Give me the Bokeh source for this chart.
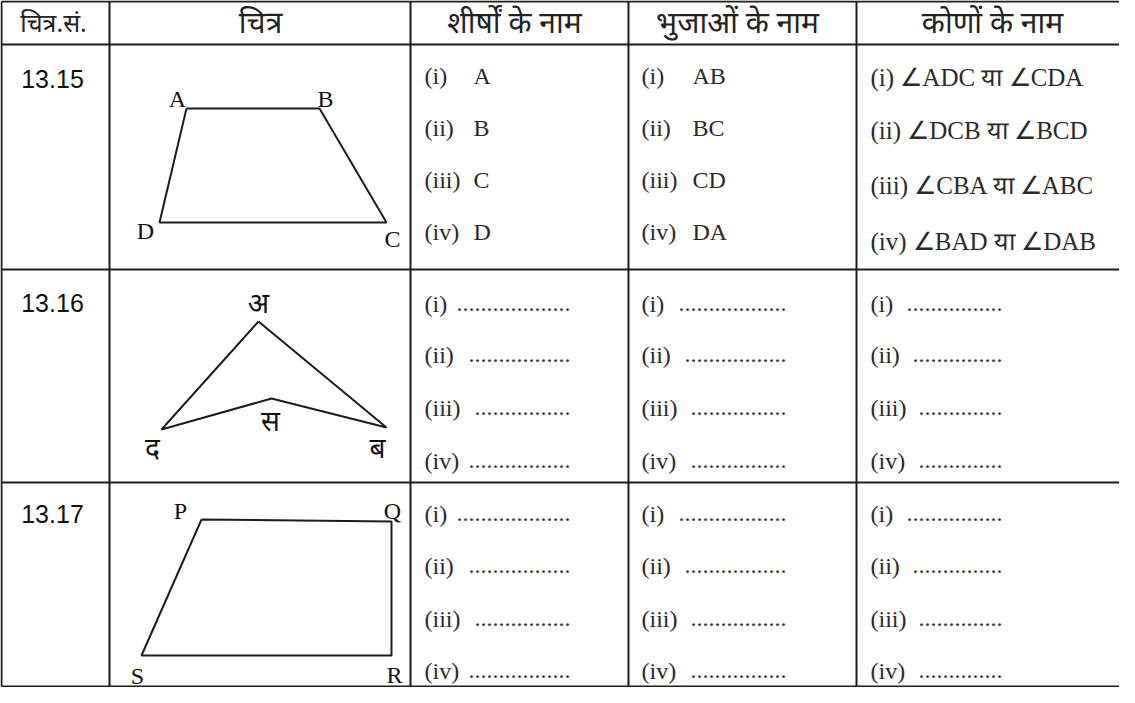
from bokeh.plotting import figure
from bokeh.models import Range1d
from bokeh.core.properties import value
from bokeh.embed import file_html
from bokeh.resources import INLINE

# ---------------- data ----------------
headers = ["चित्र.सं.", "चित्र", "शीर्षों के नाम", "भुजाओं के नाम", "कोणों के नाम"]
fig_numbers = ["13.15", "13.16", "13.17"]
numerals = ["(i)", "(ii)", "(iii)", "(iv)"]

# 13.15 trapezium vertices (A, B, C, D)
trap_names = ["A", "B", "C", "D"]
trap_x = [194, 327, 394, 167]
trap_y = [116, 116, 230, 230]

# 13.16 concave quadrilateral (अ, ब, स, द)
conc_names = ["अ", "ब", "स", "द"]
conc_x = [266, 394, 279, 169]
conc_y = [329, 435, 406, 437]

# 13.17 quadrilateral (P, Q, R, S)
quad_names = ["P", "Q", "R", "S"]
quad_x = [209, 399, 399, 149]
quad_y = [527, 529, 663, 663]

vertex_answers = ["A", "B", "C", "D"]
side_answers = ["AB", "BC", "CD", "DA"]
angle_answers = ["(i) ∠ADC या ∠CDA", "(ii) ∠DCB या  ∠BCD",
                 "(iii) ∠CBA या ∠ABC", "(iv) ∠BAD या ∠DAB"]
# number of dots in blank answers (vertices, sides, angles columns)
dots_vertices = [19, 17, 16, 17]
dots_sides = [18, 17, 16, 16]
dots_angles = [16, 15, 14, 14]

# ---------------- layout ----------------
PAGE_W, PAGE_H, M = 1135, 703, 8
COL_EDGES = [7, 117, 418, 636, 864]
ROW_EDGES = [3, 52, 277, 490, 700]
X0, X1 = M, PAGE_W - M
Y0, Y1 = M, PAGE_H - M

p = figure(width=X1 - X0, height=Y1 - Y0,
           x_range=Range1d(X0, X1), y_range=Range1d(Y1, Y0),
           output_backend="svg", toolbar_location=None,
           x_axis_location=None, y_axis_location=None,
           min_border=0, min_border_left=0, min_border_right=0,
           min_border_top=0, min_border_bottom=0)
p.outline_line_color = None
p.grid.grid_line_color = None
p.background_fill_color = "white"
p.border_fill_color = "white"

LINE = "#1c1c1c"

def clampy(y):
    return min(max(y, Y0 + 1), Y1 - 1)

def clampx(x):
    return min(max(x, X0 + 1), X1 + 5)

# table grid
hy = [clampy(y) for y in ROW_EDGES]
p.segment(x0=[clampx(COL_EDGES[0])] * len(hy), y0=hy,
          x1=[X1 + 5] * len(hy), y1=hy, line_color=LINE, line_width=2)
vx = [clampx(x) for x in COL_EDGES]
p.segment(x0=vx, y0=[hy[0]] * len(vx), x1=vx, y1=[hy[-1]] * len(vx),
          line_color=LINE, line_width=2)

SERIF = value("Liberation Serif")
DEVA = value("Noto Sans")
SANS = value("Liberation Sans")

# headers
hx = [61, 268, 522, 745, 1000]
hsize = ["25px", "30px", "30px", "30px", "30px"]
for t, x, s in zip(headers, hx, hsize):
    p.text(x=[x], y=[29], text=[t], text_font=DEVA, text_font_size=s,
           text_align="center", text_baseline="middle", text_color="#222222")

# figure numbers
p.text(x=[60, 60, 60], y=[86, 310, 521], text=fig_numbers, text_font=SANS,
       text_font_size="25px", text_align="center", text_baseline="middle",
       text_color="#111111")

# shapes
sw = 2
p.line(x=trap_x + trap_x[:1], y=trap_y + trap_y[:1], line_color=LINE, line_width=sw)
p.line(x=conc_x + conc_x[:1], y=conc_y + conc_y[:1], line_color=LINE, line_width=sw)
p.line(x=quad_x + quad_x[:1], y=quad_y + quad_y[:1], line_color=LINE, line_width=sw)

# vertex labels
p.text(x=[185, 333, 400, 153], y=[106, 106, 246, 238], text=trap_names,
       text_font=SERIF, text_font_size="24px", text_align="center",
       text_baseline="middle", text_color="#111111")
p.text(x=[266, 385, 278, 160], y=[309, 454, 427, 454], text=conc_names,
       text_font=DEVA, text_font_size="28px", text_align="center",
       text_baseline="middle", text_color="#111111")
p.text(x=[188, 400, 402, 145], y=[518, 518, 682, 683], text=quad_names,
       text_font=SERIF, text_font_size="24px", text_align="center",
       text_baseline="middle", text_color="#111111")

ANS = "#2a2a2a"
FS = "24px"
row1_y = [83, 135, 187, 239]
row1_y5 = [85, 138, 193, 249]
row2_y = [311, 362, 415, 468]
row3_y = [521, 573, 626, 678]

# row 1 answers
p.text(x=[432] * 4, y=row1_y, text=numerals, text_font=SERIF, text_font_size=FS,
       text_align="left", text_baseline="middle", text_color=ANS)
p.text(x=[481] * 4, y=row1_y, text=vertex_answers, text_font=SERIF, text_font_size=FS,
       text_align="left", text_baseline="middle", text_color=ANS)
p.text(x=[649] * 4, y=row1_y, text=numerals, text_font=SERIF, text_font_size=FS,
       text_align="left", text_baseline="middle", text_color=ANS)
p.text(x=[700] * 4, y=row1_y, text=side_answers, text_font=SERIF, text_font_size=FS,
       text_align="left", text_baseline="middle", text_color=ANS)
p.text(x=[878] * 4, y=row1_y5, text=angle_answers, text_font=SERIF, text_font_size="25px",
       text_align="left", text_baseline="middle", text_color=ANS)

# blank rows
col_starts = [432, 649, 878]
col_ends = [578, 794, 1010]
dot_counts = [dots_vertices, dots_sides, dots_angles]
for ys in (row2_y, row3_y):
    for xs, xe, counts in zip(col_starts, col_ends, dot_counts):
        p.text(x=[xs] * 4, y=ys, text=numerals, text_font=SERIF, text_font_size=FS,
               text_align="left", text_baseline="middle", text_color=ANS)
        p.text(x=[xe] * 4, y=ys, text=["." * n for n in counts],
               text_font=SERIF, text_font_size=FS, text_align="right",
               text_baseline="middle", text_color="#333333")

open("out.html", "w").write(file_html(p, INLINE))
